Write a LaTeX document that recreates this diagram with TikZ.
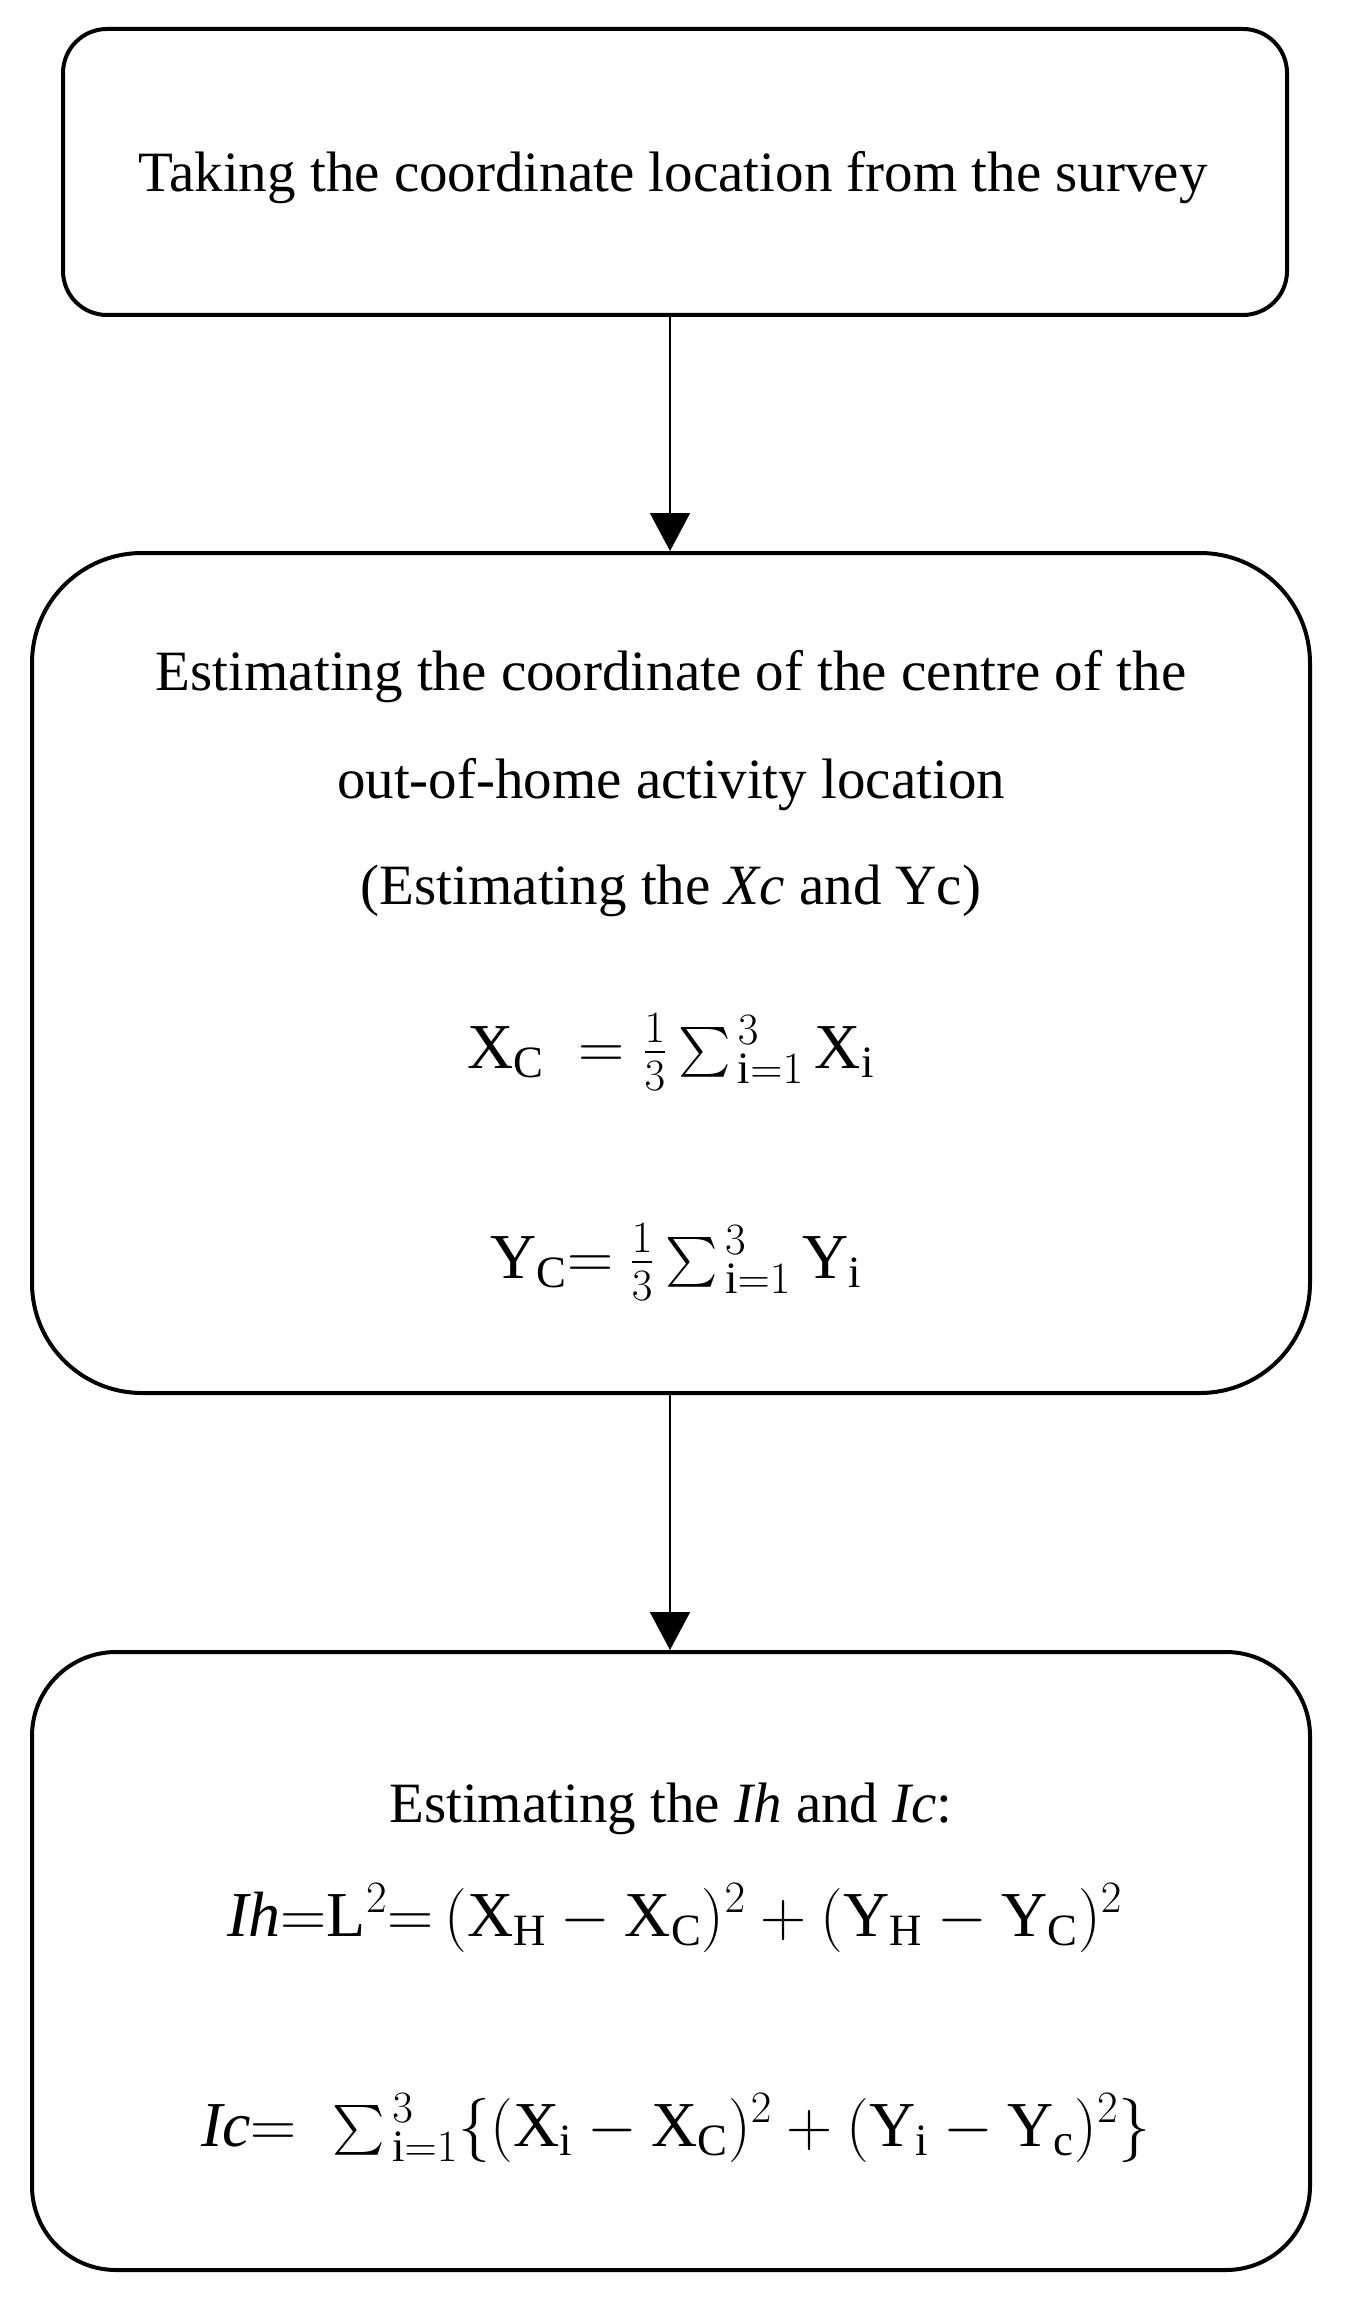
\documentclass[tikz,border=0pt]{standalone}
\usepackage{fix-cm}
\usepackage{amsmath}
\usepackage{fontspec}
\setmainfont{Liberation Serif}
\usetikzlibrary{arrows.meta}
\newcommand{\mysum}{{\textstyle\sum}\mkern2mu{}}
\tikzset{
  box/.style={draw=black, line width=2pt, fill=white},
  txt/.style={inner sep=0pt, anchor=base, font=\fontsize{28.5}{34}\selectfont},
  eqn/.style={inner sep=0pt, anchor=base, font=\fontsize{32}{38}\selectfont},
  flow/.style={draw=black, line width=0.9pt, -{Triangle[width=20pt,length=19pt]}}
}
\begin{document}
\begin{tikzpicture}[x=0.5pt,y=-0.5pt]
\useasboundingbox (0,0) rectangle (1349,2300);
% boxes
\node[box, rounded corners=22pt, minimum width=612pt, minimum height=143pt] (b1) at (675,172) {};
\node[box, rounded corners=55pt, minimum width=639pt, minimum height=420pt] (b2) at (671,973) {};
\node[box, rounded corners=42pt, minimum width=639pt, minimum height=309pt] (b3) at (671,1961) {};
% texts
\node[txt] (t1) at (673,192) {Taking the coordinate location from the survey};
\node[txt] (t2a) at (671,690) {Estimating the coordinate of the centre of the};
\node[txt] (t2b) at (671,798) {out-of-home activity location};
\node[txt] (t2c) at (671,904) {(Estimating the \textit{Xc} and Yc)};
\node[eqn] (e1) at (671,1068) {$\mathrm{X}_{\mathrm{C}}\ = \tfrac{1}{3}\,\mysum_{\mathrm{i}=1}^{3}\,\mathrm{X}_{\mathrm{i}}$};
\node[eqn] (e2) at (676,1278) {$\mathrm{Y}_{\mathrm{C}}{=}\ \tfrac{1}{3}\,\mysum_{\mathrm{i}=1}^{3}\,\mathrm{Y}_{\mathrm{i}}$};
\node[txt] (t3) at (671,1822) {Estimating the \textit{Ih} and \textit{Ic}:};
\node[eqn] (e3) at (675,1936) {$\mathit{Ih}{=}\mathrm{L}^2{=}\,(\mathrm{X}_{\mathrm{H}}-\mathrm{X}_{\mathrm{C}})^2+(\mathrm{Y}_{\mathrm{H}}-\mathrm{Y}_{\mathrm{C}})^2$};
\node[eqn] (e4) at (676,2146) {$\mathit{Ic}{=}\;\;\mysum_{\mathrm{i}=1}^{3}\{(\mathrm{X}_{\mathrm{i}}-\mathrm{X}_{\mathrm{C}})^2+(\mathrm{Y}_{\mathrm{i}}-\mathrm{Y}_{\mathrm{c}})^2\}$};
% arrows
\coordinate (a1s) at (670,315);
\coordinate (a2s) at (670,1393);
\draw[flow] (b1.south -| a1s) -- (b2.north -| a1s);
\draw[flow] (b2.south -| a2s) -- (b3.north -| a2s);
\end{tikzpicture}
\end{document}
